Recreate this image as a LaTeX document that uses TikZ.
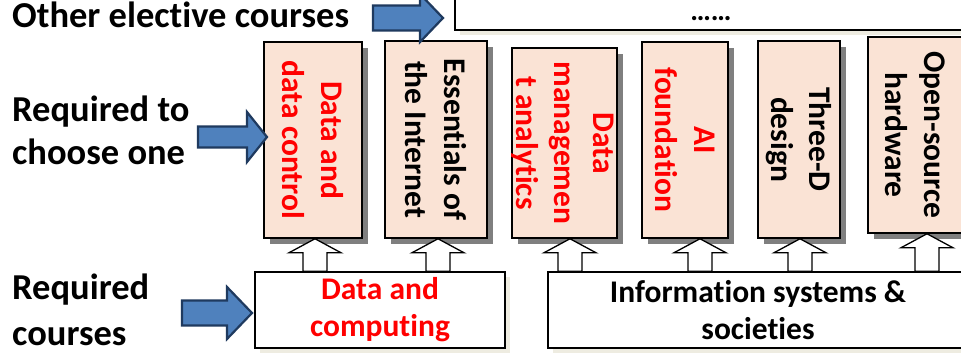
\documentclass[tikz,border=0pt]{standalone}
\usepackage{fontspec}
\setmainfont{Carlito}[Ligatures=NoCommon]
\usetikzlibrary{calc,shadows}
\definecolor{peach}{HTML}{FAE3D5}
\definecolor{shgray}{HTML}{7F7F7F}
\definecolor{shbeige}{HTML}{EEECE1}
\definecolor{arrblue}{HTML}{4F81BD}
\definecolor{arrnavy}{HTML}{1F3A5F}
\definecolor{myred}{HTML}{FF0000}
\tikzset{
  cbox/.style={draw=black, line width=1.5pt, fill=peach, inner sep=0pt,
    drop shadow={shadow xshift=6pt, shadow yshift=-6pt, fill=shgray, opacity=1}},
  wbox/.style={draw=black, line width=1.5pt, fill=white, inner sep=0pt,
    drop shadow={shadow xshift=5pt, shadow yshift=-5pt, fill=shbeige, opacity=1}},
  lbl/.style={font=\fontsize{36.5}{42}\selectfont\bfseries, anchor=base west, inner sep=0pt},
  vtext/.style={font=\fontsize{31.5}{38.5}\selectfont\bfseries, rotate=-90, align=center, inner sep=0pt},
  btext/.style={font=\fontsize{31.5}{37}\selectfont\bfseries, align=center, inner sep=0pt},
  uparr/.style={draw=black, line width=1.3pt, fill=white},
  bluearr/.style={draw=arrnavy, line width=2.2pt, fill=arrblue, line join=miter},
}
\newcommand\UpArr[3]{%
  \draw[uparr] let \p1=(#2.south), \p2=(#3.north) in
    (#1pt-12pt,\y2) -- (#1pt-12pt,\y1-14pt) -- (#1pt-26pt,\y1-14pt) -- (#1pt,\y1)
    -- (#1pt+26pt,\y1-14pt) -- (#1pt+12pt,\y1-14pt) -- (#1pt+12pt,\y2) -- cycle;}
\newcommand\BlueArr[5]{%
  \draw[bluearr] let \p1=(#1) in
    (\x1-#2pt,\y1+#3pt) -- (\x1-#5pt,\y1+#3pt) -- (\x1-#5pt,\y1+#4pt) -- (\x1,\y1)
    -- (\x1-#5pt,\y1-#4pt) -- (\x1-#5pt,\y1-#3pt) -- (\x1-#2pt,\y1-#3pt) -- cycle;}
\begin{document}
\begin{tikzpicture}[x=1pt,y=-1pt]
\useasboundingbox (0,0) rectangle (961,355);
\clip (0,0) rectangle (961,355);
\fill[white] (0,0) rectangle (961,355);

% top box
\node[wbox, minimum width=545pt, minimum height=70pt] (top) at (727.5,-5) {};
\node[font=\fontsize{29}{33}\selectfont\bfseries, anchor=base, inner sep=0pt] (dots) at (711,21) {……};

% choice boxes
\node[cbox, minimum width=98pt, minimum height=196pt] (c1) at (313,140) {};
\node[cbox, minimum width=102pt, minimum height=197pt] (c2) at (436,139.5) {};
\node[cbox, minimum width=105pt, minimum height=190pt] (c3) at (564.5,143) {};
\node[cbox, minimum width=86pt, minimum height=196pt] (c4) at (685,140) {};
\node[cbox, minimum width=82pt, minimum height=197pt] (c5) at (799,139.5) {};
\node[cbox, minimum width=94pt, minimum height=196pt] (c6) at (915,135) {};

\node[vtext, text=myred] (t1) at (c1.center) {Data and\\data control};
\node[vtext] (t2) at (c2.center) {Essentials of\\the Internet};
\node[vtext, text=myred] (t3) at ([xshift=-2pt]c3.center) {Data\\managemen\\t analytics};
\node[vtext, text=myred] (t4) at (c4.center) {AI\\foundation};
\node[vtext] (t5) at (c5.center) {Three-D\\design};
\node[vtext] (t6) at (c6.center) {Open-source\\hardware};

% required boxes
\node[wbox, minimum width=250pt, minimum height=76pt] (b1) at (380,310) {};
\node[wbox, minimum width=420pt, minimum height=76pt] (b2) at (758,310) {};
\node[btext, text=myred] (bt1) at (b1.center) {Data and\\computing};
\node[btext] (bt2) at (b2.center) {Information systems \&\\societies};

% up arrows
\UpArr{315}{c1}{b1}
\UpArr{438}{c2}{b1}
\UpArr{570}{c3}{b2}
\UpArr{700}{c4}{b2}
\UpArr{800}{c5}{b2}
\UpArr{927}{c6}{b2}

% left labels
\node[lbl] (l1) at (12,28) {Other elective courses};
\node[lbl] (l2) at (12,122) {Required to};
\node[lbl] (l3) at (12,165) {choose one};
\node[lbl] (l4) at (12,300) {Required};
\node[lbl] (l5) at (12,345) {courses};

% blue arrows
\coordinate (tA) at (443,18);
\coordinate (tB) at (267,137);
\coordinate (tC) at (252,313);
\BlueArr{tA}{70}{12.5}{24}{23}
\BlueArr{tB}{69}{10.5}{25}{20}
\BlueArr{tC}{70}{12.5}{26}{25}
\end{tikzpicture}
\end{document}
